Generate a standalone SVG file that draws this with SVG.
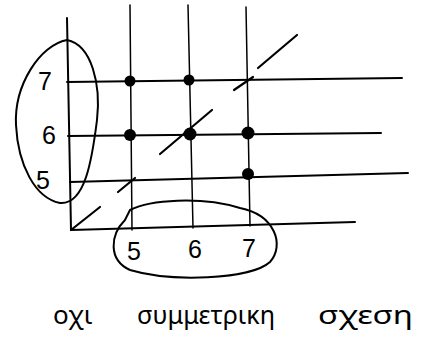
<svg xmlns="http://www.w3.org/2000/svg" width="425" height="338" viewBox="0 0 425 338">
<style>
.ln{stroke:#000;stroke-width:2;fill:none;stroke-linecap:round}
.thin{stroke:#000;stroke-width:1.5;fill:none;stroke-linecap:round}
.dg{stroke:#000;stroke-width:2.2;fill:none;stroke-linecap:round}
.dot{fill:#000}
.lbl{font-family:"Liberation Sans",Arial,sans-serif;font-size:25px;fill:#000}
.cap{font-family:"Noto Sans","DejaVu Sans",sans-serif;font-size:26px;fill:#000}
</style>
<rect width="425" height="338" fill="#fff"/>
<g id="axes">
<path class="ln" d="M67 18 L71 230"/>
<path class="ln" d="M71 230 L355 222"/>
</g>
<g id="grid">
<path class="thin" d="M130 5 L132 230"/>
<path class="thin" d="M188 5 L193 228"/>
<path class="thin" d="M246 7 L250 226"/>
<path class="ln" d="M67 82 L402 78"/>
<path class="ln" d="M68 136 L381 133"/>
<path class="ln" d="M70 182 L408 173"/>
</g>
<g id="diagonal">
<path class="dg" d="M71 230 L100 207"/>
<path class="dg" d="M118 192 L135 178"/>
<path class="dg" d="M160 154 L212 110"/>
<path class="dg" d="M234 90 L253 77"/>
<path class="dg" d="M258 68 L297 35"/>
</g>
<g id="points">
<circle class="dot" cx="130" cy="81" r="5.5"/>
<circle class="dot" cx="189" cy="80" r="5.5"/>
<circle class="dot" cx="130" cy="135" r="6"/>
<circle class="dot" cx="190" cy="134" r="6.5"/>
<circle class="dot" cx="248" cy="133" r="6.5"/>
<circle class="dot" cx="248" cy="174" r="6"/>
</g>
<g id="y-labels">
<path class="ln" d="M67 40 C40 45 14 85 16 125 C18 165 35 198 60 203 C85 205 92 160 97 120 C101 85 92 45 67 40 Z"/>
<text class="lbl" x="38" y="90">7</text>
<text class="lbl" x="42" y="144">6</text>
<text class="lbl" x="36" y="189">5</text>
</g>
<g id="x-labels">
<path class="ln" d="M130 210 C150 200 200 196 240 208 C275 215 285 245 270 262 C250 280 170 282 130 270 C108 260 110 235 125 220 Z"/>
<text class="lbl" x="127" y="260">5</text>
<text class="lbl" x="188" y="258">6</text>
<text class="lbl" x="242" y="257">7</text>
</g>
<g id="caption">
<text class="cap" x="53" y="324">οχι</text>
<text class="cap" x="137" y="324" textLength="138" lengthAdjust="spacingAndGlyphs">συμμετρικη</text>
<text class="cap" x="318" y="324" textLength="95" lengthAdjust="spacingAndGlyphs">σχεση</text>
</g>
</svg>
